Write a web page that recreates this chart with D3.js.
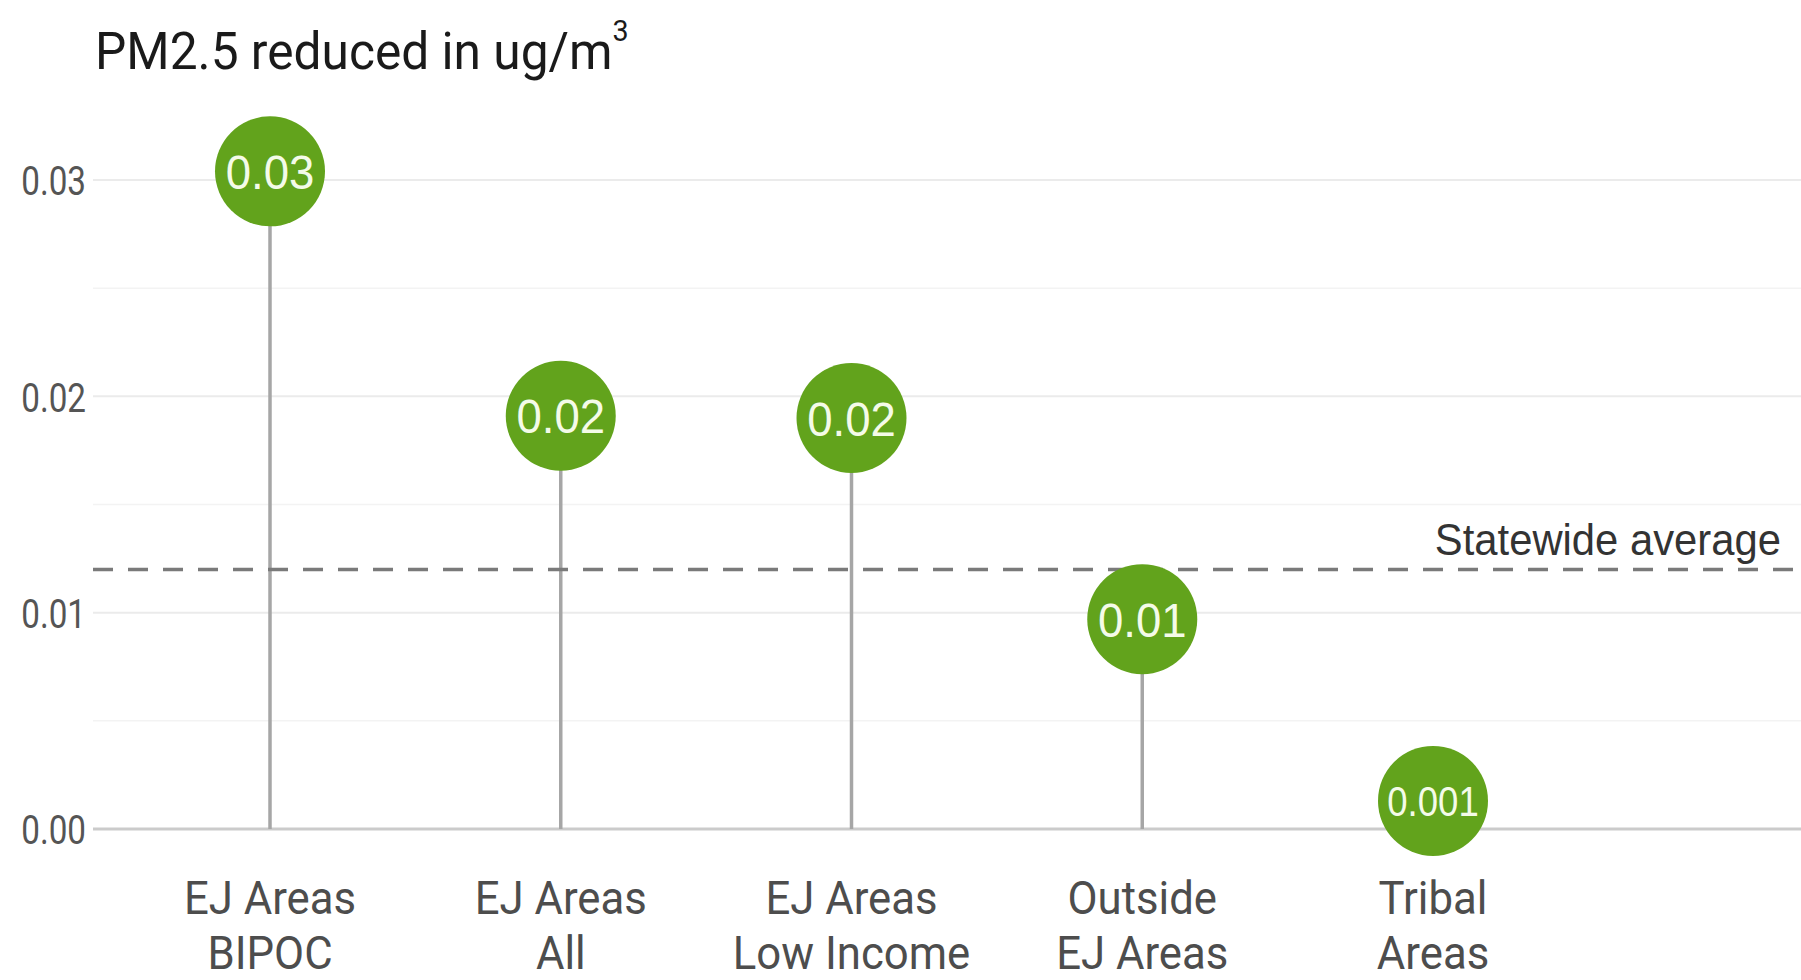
<!DOCTYPE html>
<html lang="en">
<head>
    <meta charset="UTF-8">
    <title>PM2.5 reduced lollipop chart</title>
    <script src="https://d3js.org/d3.v7.min.js"></script>
    <style>
        body { margin: 0; background: #fff; }
        svg { display: block; }
    </style>
</head>
<body>
    <svg width="1801" height="980"></svg>
    <script>
        // Data
        const categories = ["EJ Areas BIPOC", "EJ Areas All", "EJ Areas Low Income", "Outside EJ Areas", "Tribal Areas"];
        const categoryLines = [["EJ Areas", "BIPOC"], ["EJ Areas", "All"], ["EJ Areas", "Low Income"], ["Outside", "EJ Areas"], ["Tribal", "Areas"]];
        const values = [0.0304, 0.0191, 0.0190, 0.0097, 0.0013];
        const valueLabels = ["0.03", "0.02", "0.02", "0.01", "0.001"];
        const statewideAverage = 0.012;
        const yTicks = [0, 0.01, 0.02, 0.03];
        const yMinorTicks = [0.005, 0.015, 0.025];

        const data = categories.map((c, i) => ({ cat: c, lines: categoryLines[i], value: values[i], label: valueLabels[i] }));

        const svg = d3.select("svg");
        const W = +svg.attr("width");
        const plotLeft = 93, plotRight = W;

        const x = d3.scalePoint()
            .domain(categories)
            .range([270, 1433]);

        const y = d3.scaleLinear()
            .domain([0, 0.03])
            .range([829, 180]);

        // minor gridlines
        svg.append("g").selectAll("line")
            .data(yMinorTicks)
            .join("line")
                .attr("x1", plotLeft).attr("x2", plotRight)
                .attr("y1", d => y(d)).attr("y2", d => y(d))
                .attr("stroke", "#f3f3f3")
                .attr("stroke-width", 1.5);

        // major gridlines (0 line is the darker axis line)
        svg.append("g").selectAll("line")
            .data(yTicks)
            .join("line")
                .attr("x1", plotLeft).attr("x2", plotRight)
                .attr("y1", d => y(d)).attr("y2", d => y(d))
                .attr("stroke", d => d === 0 ? "#cbcbcb" : "#ebebeb")
                .attr("stroke-width", d => d === 0 ? 3 : 2);

        // y axis tick labels
        const yAxis = svg.append("g")
            .attr("transform", `translate(86,0)`)
            .call(d3.axisLeft(y).tickValues(yTicks).tickFormat(d3.format(".2f")).tickSize(0).tickPadding(0));
        yAxis.select(".domain").remove();
        yAxis.selectAll("text")
            .attr("font-family", "Roboto, sans-serif")
            .attr("font-size", 41)
            .attr("fill", "#555")
            .attr("transform", "scale(0.81,1)")
            .attr("dy", "0.36em");

        // stems
        svg.append("g").selectAll("line")
            .data(data)
            .join("line")
                .attr("x1", d => x(d.cat)).attr("x2", d => x(d.cat))
                .attr("y1", y(0)).attr("y2", d => y(d.value))
                .attr("stroke", "#a6a6a6")
                .attr("stroke-width", 3.5);

        // statewide average
        svg.append("line")
            .attr("x1", plotLeft).attr("x2", plotRight)
            .attr("y1", y(statewideAverage)).attr("y2", y(statewideAverage))
            .attr("stroke", "#7a7a7a")
            .attr("stroke-width", 3.5)
            .attr("stroke-dasharray", "20,15");

        svg.append("text")
            .attr("transform", `translate(1781,${y(statewideAverage) - 14}) scale(0.95,1)`)
            .attr("text-anchor", "end")
            .attr("font-family", "Liberation Sans, Arial, sans-serif")
            .attr("font-size", 44)
            .attr("fill", "#333")
            .text("Statewide average");

        // circles
        svg.append("g").selectAll("circle")
            .data(data)
            .join("circle")
                .attr("cx", d => x(d.cat))
                .attr("cy", d => y(d.value))
                .attr("r", 55)
                .attr("fill", "#62a31c");

        svg.append("g").selectAll("text")
            .data(data)
            .join("text")
                .attr("transform", d => `translate(${x(d.cat)},${y(d.value)}) scale(${d.label.length > 4 ? 0.87 : 0.93},1)`)
                .attr("text-anchor", "middle")
                .attr("dy", "0.36em")
                .attr("font-family", "Liberation Sans, Arial, sans-serif")
                .attr("font-size", d => d.label.length > 4 ? 42 : 49)
                .attr("fill", "#f4fbe8")
                .text(d => d.label);

        // x labels (two lines)
        const xl = svg.append("g").selectAll("text")
            .data(data)
            .join("text")
                .attr("transform", d => `translate(${x(d.cat)},914) scale(0.93,1)`)
                .attr("text-anchor", "middle")
                .attr("font-family", "Roboto, sans-serif")
                .attr("font-size", 47)
                .attr("fill", "#4d4d4d");
        xl.selectAll("tspan")
            .data(d => d.lines)
            .join("tspan")
                .attr("x", 0)
                .attr("y", (d, i) => i * 55)
                .text(d => d);

        // title
        const title = svg.append("text")
            .attr("transform", `translate(95,69) scale(0.955,1)`)
            .attr("font-family", "Roboto, sans-serif")
            .attr("font-size", 52)
            .attr("fill", "#1a1a1a");
        title.append("tspan").text("PM2.5 reduced in ug/m");
        title.append("tspan")
            .attr("font-size", 30)
            .attr("dy", -28)
            .text("3");
    </script>
</body>
</html>
